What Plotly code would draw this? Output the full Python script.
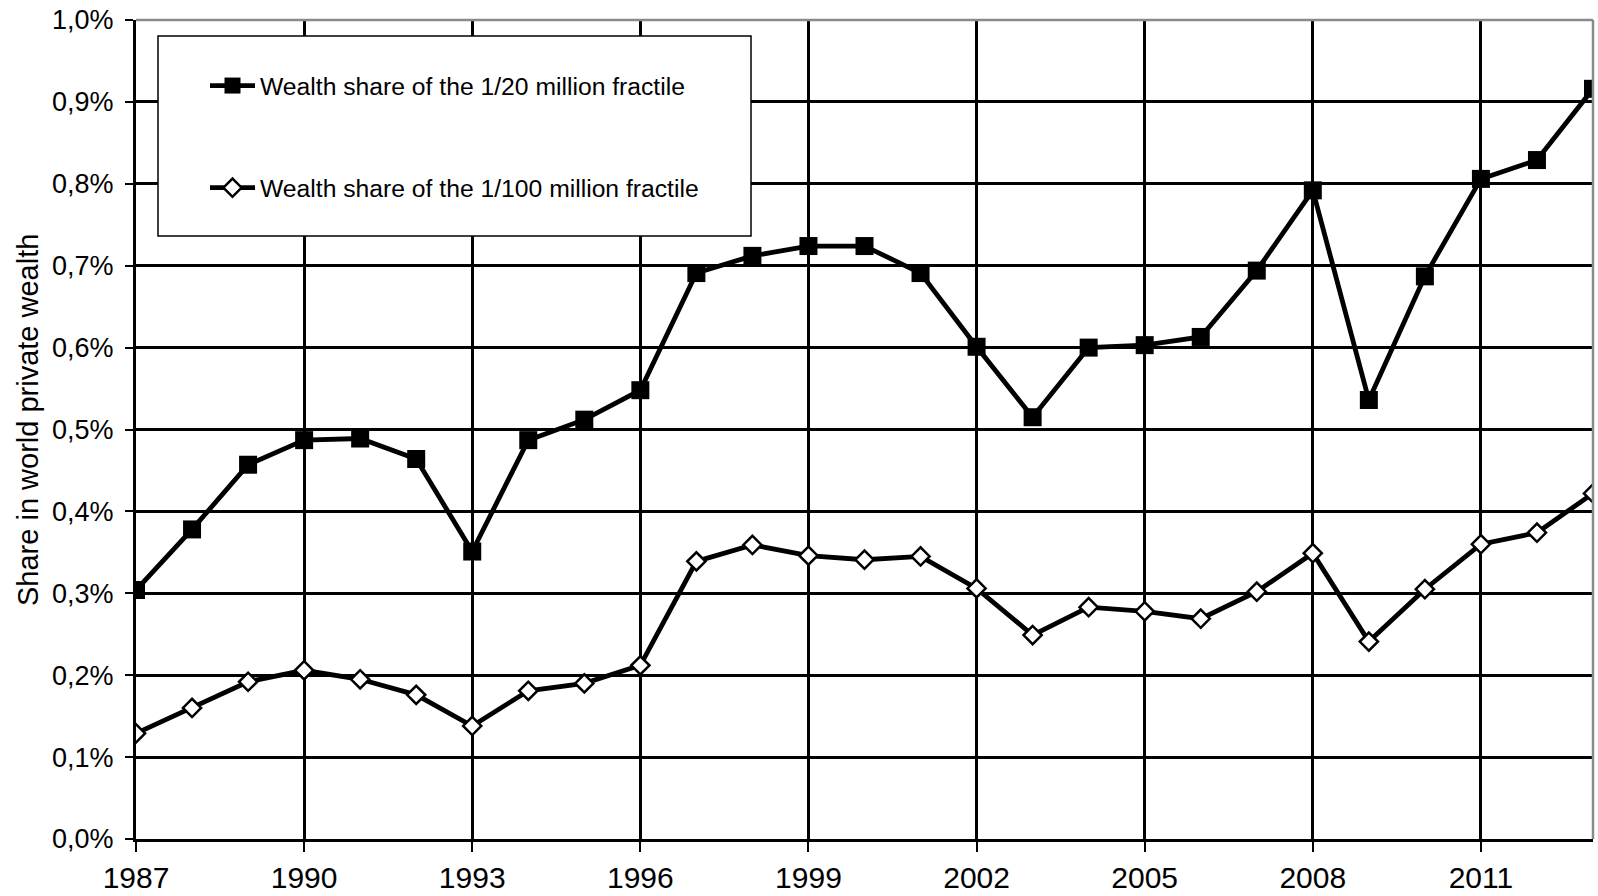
import plotly.graph_objects as go

years = list(range(1987, 2014))
share_20m = [0.304, 0.378, 0.457, 0.487, 0.489, 0.464, 0.351, 0.487, 0.512, 0.548,
             0.691, 0.712, 0.724, 0.724, 0.691, 0.601, 0.515, 0.600, 0.603, 0.613,
             0.694, 0.792, 0.536, 0.687, 0.806, 0.829, 0.916]
share_100m = [0.129, 0.160, 0.192, 0.206, 0.195, 0.176, 0.138, 0.181, 0.190, 0.212,
              0.339, 0.359, 0.346, 0.341, 0.345, 0.306, 0.249, 0.283, 0.278, 0.269,
              0.302, 0.349, 0.241, 0.305, 0.360, 0.374, 0.422]
name_20m = "Wealth share of the 1/20 million fractile"
name_100m = "Wealth share of the 1/100 million fractile"
x_tickvals = [1987, 1990, 1993, 1996, 1999, 2002, 2005, 2008, 2011]
x_ticktext = [str(v) for v in x_tickvals]
y_tickvals = [i / 10 for i in range(11)]
y_ticktext = ["0,0%", "0,1%", "0,2%", "0,3%", "0,4%", "0,5%", "0,6%", "0,7%", "0,8%", "0,9%", "1,0%"]
y_title = "Share in world private wealth"

FONT = "Arial, Liberation Sans, sans-serif"
W, H = 1598, 896
# plot area in page pixels: left 136, top 20, right 1593, bottom 839
L, T, R, B = 136, 20, W - 1593, H - 839
PW, PH = W - L - R, H - T - B

def px_x(p):
    return (p - L) / PW

def px_y(p):
    return (H - B - p) / PH

fig = go.Figure()
fig.add_trace(go.Scatter(
    x=years, y=share_20m, name=name_20m, mode="lines+markers", legendgroup="a",
    line=dict(color="black", width=4.8),
    marker=dict(symbol="square", size=18, color="black"),
))
fig.add_trace(go.Scatter(
    x=years, y=share_100m, name=name_100m, mode="lines+markers", legendgroup="b",
    line=dict(color="black", width=4.8),
    marker=dict(symbol="diamond", size=14, color="white", line=dict(color="black", width=2.5)),
))

# legend box
fig.add_shape(type="rect", xref="paper", yref="paper",
              x0=px_x(158), x1=px_x(751), y0=px_y(236), y1=px_y(36),
              fillcolor="white", line=dict(color="black", width=1.5), layer="above")
# grey top / right frame
fig.add_shape(type="line", xref="x domain", yref="y domain", x0=0, x1=1, y0=1, y1=1,
              line=dict(color="#8a8a8a", width=2.5), layer="above")
fig.add_shape(type="line", xref="x domain", yref="y domain", x0=1, x1=1, y0=0, y1=1,
              line=dict(color="#8a8a8a", width=2.5), layer="above")

fig.add_annotation(text=y_title, xref="paper", yref="paper",
                   x=px_x(28), y=px_y(420), xanchor="center", yanchor="middle",
                   textangle=-90, showarrow=False,
                   font=dict(family=FONT, size=29, color="black"))

fig.update_layout(
    width=W, height=H,
    margin=dict(l=L, r=R, t=T, b=B, pad=0, autoexpand=False),
    paper_bgcolor="white", plot_bgcolor="white",
    font=dict(family=FONT, color="black"),
    showlegend=True,
    hovermode=False,
    legend=dict(x=px_x(205), y=px_y(63), xanchor="left", yanchor="top",
                bgcolor="rgba(0,0,0,0)", borderwidth=0,
                traceorder="grouped", tracegroupgap=67, itemwidth=45,
                font=dict(family=FONT, size=24.7, color="black")),
    xaxis=dict(range=[1987, 2013], tickmode="array", tickvals=x_tickvals, ticktext=x_ticktext,
               automargin=False, ticklabeloverflow="allow",
               showgrid=True, gridcolor="black", gridwidth=2.5,
               showline=True, linecolor="black", linewidth=3,
               ticks="outside", ticklen=10, tickwidth=2, tickcolor="black",
               ticklabelstandoff=0,
               tickfont=dict(family=FONT, size=30, color="black"), zeroline=False),
    yaxis=dict(range=[0, 1.0], tickmode="array", tickvals=y_tickvals, ticktext=y_ticktext,
               automargin=False, ticklabeloverflow="allow",
               showgrid=True, gridcolor="black", gridwidth=2.5,
               showline=True, linecolor="black", linewidth=3,
               ticks="outside", ticklen=8, tickwidth=2, tickcolor="black",
               ticklabelstandoff=6,
               tickfont=dict(family=FONT, size=27, color="black"), zeroline=False),
)

fig.write_html("out.html", config={"displayModeBar": False},
               post_script="document.body.style.margin='0';document.body.style.overflow='hidden';")
